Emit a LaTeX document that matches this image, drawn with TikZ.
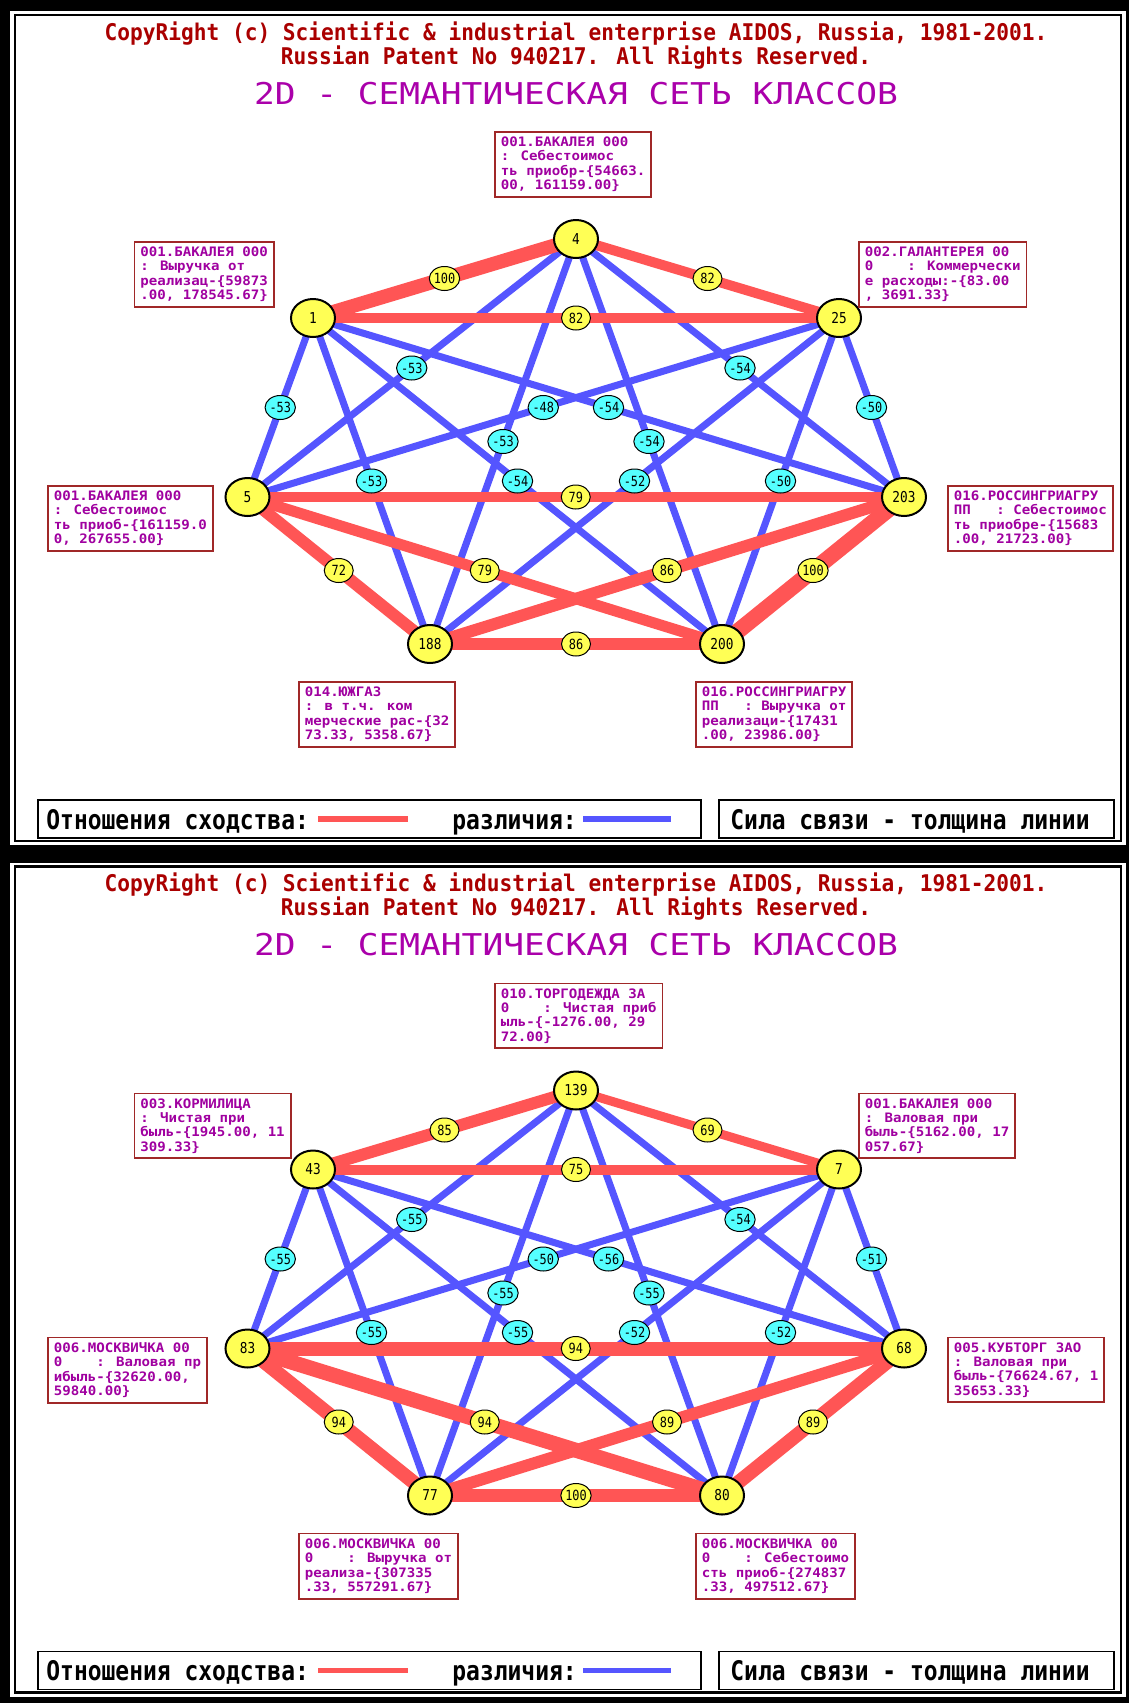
\documentclass[tikz,border=0pt]{standalone}
\usepackage{fontspec}
\usetikzlibrary{shapes.geometric}
\newfontfamily\hdrfont[FakeStretch=0.92]{DejaVu Sans Mono Bold}
\newfontfamily\ttlfont[FakeStretch=1.15]{DejaVu Sans Mono}
\newfontfamily\boxfont[FakeStretch=1.085]{DejaVu Sans Mono Bold}
\newfontfamily\lgdfont[FakeStretch=0.85]{DejaVu Sans Mono Bold}
\newfontfamily\numfont[FakeStretch=0.85]{DejaVu Sans Mono}
\definecolor{edgered}{HTML}{FF5555}
\definecolor{edgeblue}{HTML}{5555FF}
\definecolor{nodeyel}{HTML}{FFFF55}
\definecolor{labcyan}{HTML}{55FFFF}
\definecolor{hdrred}{HTML}{AA0000}
\definecolor{ttlpurple}{HTML}{AA00AA}
\definecolor{boxtext}{HTML}{A000A0}
\definecolor{boxline}{HTML}{A02828}
\pgfdeclarelayer{frame}
\pgfdeclarelayer{edges}
\pgfsetlayers{frame,edges,main}
\tikzset{
  cls/.style={ellipse, draw=black, line width=1pt, fill=nodeyel, minimum width=22pt, minimum height=19pt, inner sep=0pt, font=\numfont\fontsize{7.5}{7.5}\selectfont},
  poslab/.style={ellipse, draw=black, line width=0.5pt, fill=nodeyel, minimum width=14.5pt, minimum height=12pt, inner sep=0pt, font=\numfont\fontsize{7}{7}\selectfont},
  neglab/.style={poslab, fill=labcyan},
  posedge/.style={draw=edgered, line width=#1, shorten <=-4pt, shorten >=-4pt},
  negedge/.style={draw=edgeblue, line width=#1, shorten <=-4pt, shorten >=-4pt},
  negedge/.default=3.5pt,
  infobox/.style={draw=boxline, line width=0.9pt, fill=white, anchor=north west, align=left, inner xsep=3pt, inner ysep=2.5pt, text=boxtext, font=\boxfont\fontsize{6.5}{7.2}\selectfont},
  lgdbox/.style={draw=black, line width=0.8pt},
  hdr/.style={anchor=base, inner sep=0pt, text=hdrred, font=\hdrfont\fontsize{11.5}{12}\selectfont},
  ttl/.style={anchor=base, inner sep=0pt, text=ttlpurple, font=\ttlfont\fontsize{15}{16}\selectfont},
  lgd/.style={anchor=base west, inner sep=0pt, text=black, font=\lgdfont\fontsize{13.5}{14}\selectfont},
}
% edge with label: from, to, width, label
\newcommand\redge[4]{%
  \begin{pgfonlayer}{edges}\draw[posedge=#3] (#1) -- (#2);\end{pgfonlayer}
  \path (#1) -- (#2) node[midway, poslab] (#1-#2) {#4};}
\newcommand\bedge[3]{%
  \begin{pgfonlayer}{edges}\draw[negedge] (#1) -- (#2);\end{pgfonlayer}
  \path (#1) -- (#2) node[midway, neglab] (#1-#2) {#3};}
\newcommand\panelframe[1]{%
  \begin{pgfonlayer}{frame}
    \fill[white] (10,11) rectangle (1126,845);
    \draw[black, line width=1.2pt] (15,15) rectangle (1121,841);
  \end{pgfonlayer}
  \node[hdr] (#1h1) at (576,40) {CopyRight (c) Scientific \& industrial enterprise AIDOS, Russia, 1981-2001.};
  \node[hdr] (#1h2) at (576,64) {Russian Patent No 940217. All Rights Reserved.};
  \node[ttl] (#1h3) at (576,104) {2D - СЕМАНТИЧЕСКАЯ СЕТЬ КЛАССОВ};
  \draw[lgdbox] (38,800) rectangle (701,838);
  \draw[lgdbox] (719,800) rectangle (1114,838);
  \node[lgd] (#1l1) at (46,829) {Отношения сходства:};
  \coordinate (#1rs) at (318,819);
  \coordinate (#1re) at (408,819);
  \draw[edgered, line width=2.75pt] (#1rs) -- (#1re);
  \node[lgd] (#1l2) at (452,829) {различия:};
  \coordinate (#1bs) at (583,819);
  \coordinate (#1be) at (671,819);
  \draw[edgeblue, line width=2.75pt] (#1bs) -- (#1be);
  \node[lgd] (#1l3) at (730,829) {Сила связи - толщина линии};
}
\newcommand\classnodes[8]{%
  \node[cls] (#1T) at (576,239) {#2};
  \node[cls] (#1UL) at (313,318) {#3};
  \node[cls] (#1UR) at (839,318) {#4};
  \node[cls] (#1L) at (247.5,497) {#5};
  \node[cls] (#1R) at (904,497) {#6};
  \node[cls] (#1BL) at (430,644) {#7};
  \node[cls] (#1BR) at (722,644) {#8};
}
\begin{document}
\begin{tikzpicture}[x=0.5pt,y=-0.5pt]
\useasboundingbox (0,0) rectangle (1129,1703);
\begin{pgfonlayer}{frame}\fill[black] (0,0) rectangle (1129,1703);\end{pgfonlayer}

% ---------------- panel 1 ----------------
\begin{scope}
  \panelframe{a}
  \classnodes{a}{4}{1}{25}{5}{203}{188}{200}
  \bedge{aT}{aL}{-53}
  \bedge{aT}{aR}{-54}
  \bedge{aUL}{aL}{-53}
  \bedge{aUR}{aR}{-50}
  \bedge{aUL}{aR}{-54}
  \bedge{aUR}{aL}{-48}
  \bedge{aT}{aBL}{-53}
  \bedge{aT}{aBR}{-54}
  \bedge{aUL}{aBL}{-53}
  \bedge{aUL}{aBR}{-54}
  \bedge{aUR}{aBL}{-52}
  \bedge{aUR}{aBR}{-50}
  \redge{aT}{aUL}{7pt}{100}
  \redge{aT}{aUR}{5pt}{82}
  \redge{aUL}{aUR}{5pt}{82}
  \redge{aL}{aR}{5pt}{79}
  \redge{aL}{aBL}{6pt}{72}
  \redge{aL}{aBR}{5.5pt}{79}
  \redge{aR}{aBL}{6pt}{86}
  \redge{aBL}{aBR}{6pt}{86}
  \redge{aR}{aBR}{8pt}{100}
  \node[infobox] (ab1) at (494,131) {001.БАКАЛЕЯ 000\\: Себестоимос\\ть приобр-\{54663.\\00, 161159.00\}};
  \node[infobox] (ab2) at (133.5,241) {001.БАКАЛЕЯ 000\\: Выручка от\\реализац-\{59873\\.00, 178545.67\}};
  \node[infobox] (ab3) at (858,241) {002.ГАЛАНТЕРЕЯ 00\\0~~~~: Коммерчески\\е расходы:-\{83.00\\, 3691.33\}};
  \node[infobox] (ab4) at (47,485) {001.БАКАЛЕЯ 000\\: Себестоимос\\ть приоб-\{161159.0\\0, 267655.00\}};
  \node[infobox] (ab5) at (947,485) {016.РОССИНГРИАГРУ\\ПП~~~: Себестоимос\\ть приобре-\{15683\\.00, 21723.00\}};
  \node[infobox] (ab6) at (298,681) {014.ЮЖГАЗ\\: в т.ч. ком\\мерческие рас-\{32\\73.33, 5358.67\}};
  \node[infobox] (ab7) at (695,681) {016.РОССИНГРИАГРУ\\ПП~~~: Выручка от\\реализаци-\{17431\\.00, 23986.00\}};
\end{scope}

% ---------------- panel 2 ----------------
\begin{scope}[shift={(0,851.5)}]
  \panelframe{b}
  \classnodes{b}{139}{43}{7}{83}{68}{77}{80}
  \bedge{bT}{bL}{-55}
  \bedge{bT}{bR}{-54}
  \bedge{bUL}{bL}{-55}
  \bedge{bUR}{bR}{-51}
  \bedge{bUL}{bR}{-56}
  \bedge{bUR}{bL}{-50}
  \bedge{bT}{bBL}{-55}
  \bedge{bT}{bBR}{-55}
  \bedge{bUL}{bBL}{-55}
  \bedge{bUL}{bBR}{-55}
  \bedge{bUR}{bBL}{-52}
  \bedge{bUR}{bBR}{-52}
  \redge{bT}{bUL}{6pt}{85}
  \redge{bT}{bUR}{4.5pt}{69}
  \redge{bUL}{bUR}{5pt}{75}
  \redge{bL}{bR}{7pt}{94}
  \redge{bL}{bBL}{7pt}{94}
  \redge{bL}{bBR}{7.5pt}{94}
  \redge{bR}{bBL}{6pt}{89}
  \redge{bBL}{bBR}{6.5pt}{100}
  \redge{bR}{bBR}{7pt}{89}
  \node[infobox] (bb1) at (494,131) {010.ТОРГОДЕЖДА ЗА\\0~~~~: Чистая приб\\ыль-\{-1276.00, 29\\72.00\}};
  \node[infobox] (bb2) at (133.5,241) {003.КОРМИЛИЦА\\: Чистая при\\быль-\{1945.00, 11\\309.33\}};
  \node[infobox] (bb3) at (858,241) {001.БАКАЛЕЯ 000\\: Валовая при\\быль-\{5162.00, 17\\057.67\}};
  \node[infobox] (bb4) at (47,485) {006.МОСКВИЧКА 00\\0~~~~: Валовая пр\\ибыль-\{32620.00,\\59840.00\}};
  \node[infobox] (bb5) at (947,485) {005.КУБТОРГ ЗАО\\: Валовая при\\быль-\{76624.67, 1\\35653.33\}};
  \node[infobox] (bb6) at (298,681) {006.МОСКВИЧКА 00\\0~~~~: Выручка от\\реализа-\{307335\\.33, 557291.67\}};
  \node[infobox] (bb7) at (695,681) {006.МОСКВИЧКА 00\\0~~~~: Себестоимо\\сть приоб-\{274837\\.33, 497512.67\}};
\end{scope}
\end{tikzpicture}
\end{document}
